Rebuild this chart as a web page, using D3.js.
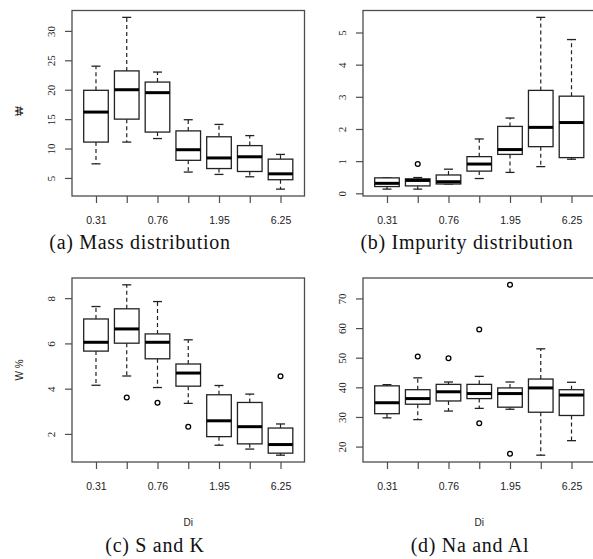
<!DOCTYPE html>
<html>
<head>
<meta charset="utf-8">
<script src="https://cdn.jsdelivr.net/npm/d3@7"></script>
<style>
  body { margin: 0; background: #fff; }
</style>
</head>
<body>
<div id="chart"></div>
<script>
// tick labels on the x axis (R drops the ones that would overlap)
const tickLabels = ["0.31", "", "0.76", "", "1.95", "", "6.25"];

// each row: [lower whisker, Q1, median, Q3, upper whisker]
const massBoxes = [
  [7.4, 11.1, 16.2, 19.9, 24.0],
  [11.1, 15.0, 20.0, 23.2, 32.3],
  [11.7, 12.8, 19.5, 21.3, 23.0],
  [6.0, 8.0, 9.8, 13.0, 14.9],
  [5.6, 6.6, 8.4, 12.0, 14.1],
  [5.2, 6.1, 8.6, 10.5, 12.2],
  [3.1, 4.7, 5.7, 8.2, 9.0]
];
const massOutliers = [];

const impurityBoxes = [
  [0.13, 0.21, 0.31, 0.48, 0.48],
  [0.13, 0.23, 0.40, 0.45, 0.49],
  [0.29, 0.29, 0.36, 0.57, 0.75],
  [0.46, 0.69, 0.91, 1.14, 1.69],
  [0.65, 1.21, 1.36, 2.08, 2.34],
  [0.83, 1.45, 2.05, 3.20, 5.47],
  [1.06, 1.11, 2.20, 3.02, 4.78]
];
const impurityOutliers = [[1, 0.91]];

const skBoxes = [
  [4.15, 5.66, 6.05, 7.08, 7.63],
  [4.56, 6.01, 6.64, 7.53, 8.59],
  [4.05, 5.32, 6.05, 6.42, 7.85],
  [3.35, 4.11, 4.69, 5.09, 6.16],
  [1.50, 1.88, 2.58, 3.73, 4.14],
  [1.33, 1.56, 2.32, 3.39, 3.76],
  [1.06, 1.15, 1.53, 2.26, 2.44]
];
const skOutliers = [[1, 3.61], [2, 3.38], [3, 2.32], [6, 4.55]];

const naalBoxes = [
  [29.7, 31.1, 34.8, 40.5, 40.9],
  [29.1, 34.3, 36.2, 39.2, 43.2],
  [32.0, 35.4, 38.5, 41.0, 41.8],
  [32.9, 36.2, 37.9, 41.0, 43.7],
  [32.6, 33.3, 37.9, 39.8, 41.8],
  [17.1, 31.6, 39.8, 42.8, 53.0],
  [22.0, 30.5, 37.4, 39.2, 41.7]
];
const naalOutliers = [[1, 50.4], [2, 49.8], [3, 59.5], [3, 27.9], [4, 74.6], [4, 17.6]];

const massTicks = [5, 10, 15, 20, 25, 30];
const impurityTicks = [0, 1, 2, 3, 4, 5];
const skTicks = [2, 4, 6, 8];
const naalTicks = [20, 30, 40, 50, 60, 70];

const W = 593, H = 559;

const svg = d3.select("#chart")
  .append("svg")
  .attr("width", W)
  .attr("height", H);

const panels = [
  {boxes: massBoxes, outliers: massOutliers, ticks: massTicks, ylab: "\u20A9", xlab: "",
   caption: "(a) Mass distribution", left: 72, top: 10.5, bottom: 196, capX: 140, capY: 249, ylabY: 111},
  {boxes: impurityBoxes, outliers: impurityOutliers, ticks: impurityTicks, ylab: "", xlab: "",
   caption: "(b) Impurity distribution", left: 363, top: 10.5, bottom: 196, capX: 467, capY: 249},
  {boxes: skBoxes, outliers: skOutliers, ticks: skTicks, ylab: "W %", xlab: "Di",
   caption: "(c) S and K", left: 72, top: 278, bottom: 462, capX: 155, capY: 552},
  {boxes: naalBoxes, outliers: naalOutliers, ticks: naalTicks, ylab: "", xlab: "Di",
   caption: "(d) Na and Al", left: 363, top: 278, bottom: 462, capX: 470, capY: 552}
];

const plotW = 232.5;

panels.forEach(function(p) {
  const g = svg.append("g");
  const right = p.left + plotW;

  // R style range: data extent padded by 4%
  const vals = p.boxes.flat().concat(p.outliers.map(d => d[1]));
  const lo = d3.min(vals), hi = d3.max(vals), pad = (hi - lo) * 0.04;

  const x = d3.scaleLinear()
    .domain([0.5 - 0.28, 7.5 + 0.28])
    .range([p.left, right]);
  const y = d3.scaleLinear()
    .domain([lo - pad, hi + pad])
    .range([p.bottom, p.top]);

  const bw = (x(2) - x(1)) * 0.8;
  const cap = 9;

  // frame
  g.append("rect")
    .attr("x", p.left).attr("y", p.top)
    .attr("width", plotW).attr("height", p.bottom - p.top)
    .attr("fill", "none").attr("stroke", "#4d4d4d").attr("stroke-width", 1.3);

  // y axis
  const ya = g.append("g")
    .attr("transform", `translate(${p.left},0)`)
    .call(d3.axisLeft(y).tickValues(p.ticks).tickSize(7).tickSizeOuter(0)
      .tickFormat(d3.format("d")));
  ya.select(".domain").remove();
  ya.selectAll("line").attr("stroke", "#4d4d4d").attr("stroke-width", 1.2);
  ya.selectAll("text")
    .attr("x", null).attr("dy", null)
    .attr("transform", "translate(-17,0) rotate(-90)")
    .attr("text-anchor", "middle")
    .attr("font-family", "Liberation Serif")
    .attr("font-size", 11)
    .attr("fill", "#222");

  // x axis
  const xa = g.append("g")
    .attr("transform", `translate(0,${p.bottom})`)
    .call(d3.axisBottom(x).tickValues(d3.range(1, 8)).tickSize(7).tickSizeOuter(0)
      .tickFormat((d, i) => tickLabels[i]));
  xa.select(".domain").remove();
  xa.selectAll("line").attr("stroke", "#4d4d4d").attr("stroke-width", 1.2);
  xa.selectAll("text")
    .attr("y", 28).attr("dy", null)
    .attr("font-family", "Liberation Sans")
    .attr("font-size", 10.5)
    .attr("fill", "#222");

  // boxes
  const bg = g.append("g")
    .selectAll("g")
    .data(p.boxes)
    .join("g")
    .attr("transform", (d, i) => `translate(${x(i + 1)},0)`);

  // whiskers
  bg.append("line")
    .attr("x1", 0).attr("x2", 0)
    .attr("y1", d => y(d[3])).attr("y2", d => y(d[4]))
    .attr("stroke", "#222").attr("stroke-dasharray", "4,3").attr("stroke-width", 1.2);
  bg.append("line")
    .attr("x1", 0).attr("x2", 0)
    .attr("y1", d => y(d[1])).attr("y2", d => y(d[0]))
    .attr("stroke", "#222").attr("stroke-dasharray", "4,3").attr("stroke-width", 1.2);
  // caps
  bg.append("line")
    .attr("x1", -cap / 2).attr("x2", cap / 2)
    .attr("y1", d => y(d[4])).attr("y2", d => y(d[4]))
    .attr("stroke", "#222").attr("stroke-width", 1.3);
  bg.append("line")
    .attr("x1", -cap / 2).attr("x2", cap / 2)
    .attr("y1", d => y(d[0])).attr("y2", d => y(d[0]))
    .attr("stroke", "#222").attr("stroke-width", 1.3);
  // box
  bg.append("rect")
    .attr("x", -bw / 2).attr("width", bw)
    .attr("y", d => y(d[3]))
    .attr("height", d => y(d[1]) - y(d[3]))
    .attr("fill", "#fff").attr("stroke", "#222").attr("stroke-width", 1.3);
  // median
  bg.append("line")
    .attr("x1", -bw / 2).attr("x2", bw / 2)
    .attr("y1", d => y(d[2])).attr("y2", d => y(d[2]))
    .attr("stroke", "#000").attr("stroke-width", 3);

  // outliers
  g.append("g")
    .selectAll("circle")
    .data(p.outliers)
    .join("circle")
    .attr("cx", d => x(d[0] + 1))
    .attr("cy", d => y(d[1]))
    .attr("r", 2.4)
    .attr("fill", "none")
    .attr("stroke", "#000")
    .attr("stroke-width", 1.3);

  // axis titles
  if (p.ylab) {
    g.append("text")
      .attr("transform", `translate(${p.left - 49},${p.ylabY || (p.top + p.bottom) / 2}) rotate(-90)`)
      .attr("text-anchor", "middle")
      .attr("font-family", "Liberation Sans")
      .attr("font-size", 10)
      .attr("fill", "#222")
      .text(p.ylab);
  }
  if (p.xlab) {
    g.append("text")
      .attr("x", (p.left + right) / 2)
      .attr("y", p.bottom + 64)
      .attr("text-anchor", "middle")
      .attr("font-family", "Liberation Sans")
      .attr("font-size", 10)
      .attr("fill", "#222")
      .text(p.xlab);
  }

  // caption
  g.append("text")
    .attr("x", p.capX)
    .attr("y", p.capY)
    .attr("text-anchor", "middle")
    .attr("font-family", "Liberation Serif")
    .attr("font-size", 20)
    .attr("letter-spacing", 0.7)
    .attr("fill", "#111")
    .text(p.caption);
});
</script>
</body>
</html>
